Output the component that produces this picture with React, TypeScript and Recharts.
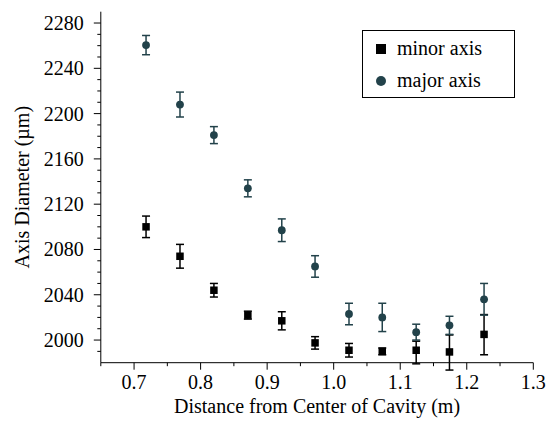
import React from 'react'
import {
  ScatterChart,
  Scatter,
  XAxis,
  YAxis,
  ErrorBar,
  Label,
} from 'recharts'

const distance = [0.718, 0.769, 0.82, 0.871, 0.922, 0.972, 1.023, 1.073, 1.124, 1.174, 1.226]

const minorValues = [2100, 2074, 2044, 2022, 2017, 1997.5, 1991, 1990, 1991, 1989.5, 2005]
const minorErrors = [
  [9.5, 9.5], [10.5, 10.5], [6, 6], [3.5, 3.5], [8, 8], [5.5, 5.5],
  [6, 6], [3, 3], [12, 8], [16, 15], [18, 17.5],
]

const majorValues = [2260.5, 2208, 2181, 2134, 2097, 2065, 2023, 2020, 2007, 2013, 2036]
const majorErrors = [8.5, 11, 7.5, 7.5, 10, 9.5, 9.5, 12.5, 7, 8, 14]

const xTicks = [0.65, 0.7, 0.75, 0.8, 0.85, 0.9, 0.95, 1.0, 1.05, 1.1, 1.15, 1.2, 1.25, 1.3]
const yTicks = [
  1990, 2000, 2010, 2020, 2030, 2040, 2050, 2060, 2070, 2080, 2090, 2100, 2110, 2120,
  2130, 2140, 2150, 2160, 2170, 2180, 2190, 2200, 2210, 2220, 2230, 2240, 2250, 2260,
  2270, 2280,
]

const FONT = '"Liberation Serif", "Times New Roman", serif'
const MAJOR_COLOR = '#22424a'
const MINOR_COLOR = '#000000'

const minorData = distance.map((x, i) => ({ x, y: minorValues[i], err: minorErrors[i] }))
const majorData = distance.map((x, i) => ({ x, y: majorValues[i], err: majorErrors[i] }))

const XTick = (props: any) => {
  const { x, y, payload } = props
  const v = payload.value
  const major = Math.round(v * 100) % 10 === 0
  return (
    <g>
      <line x1={x} x2={x} y1={y} y2={y + (major ? 7 : 3.5)} stroke="#000" strokeWidth={1} />
      {major && (
        <text x={x} y={y + 26} textAnchor="middle" fontFamily={FONT} fontSize={20} fill="#000">
          {v.toFixed(1)}
        </text>
      )}
    </g>
  )
}

const YTick = (props: any) => {
  const { x, y, payload } = props
  const v = payload.value
  const major = (v - 2000) % 40 === 0
  return (
    <g>
      <line x1={x} x2={x - (major ? 7 : 3.5)} y1={y} y2={y} stroke="#000" strokeWidth={1} />
      {major && (
        <text x={x - 17} y={y + 7} textAnchor="end" fontFamily={FONT} fontSize={20} fill="#000">
          {v}
        </text>
      )}
    </g>
  )
}

const Square = (props: any) => {
  const { cx, cy } = props
  if (cx == null || cy == null) return null
  return <rect x={cx - 3.75} y={cy - 3.75} width={7.5} height={7.5} fill={MINOR_COLOR} />
}

const Dot = (props: any) => {
  const { cx, cy } = props
  if (cx == null || cy == null) return null
  return <circle cx={cx} cy={cy} r={3.9} fill={MAJOR_COLOR} />
}

const LegendBox = () => (
  <div
    style={{
      position: 'absolute',
      left: 354,
      top: 22,
      width: 151,
      height: 66,
      border: '1px solid #000',
      background: '#fff',
      fontFamily: FONT,
      fontSize: 20,
      color: '#000',
    }}
  >
    <div style={{ position: 'absolute', left: 13, top: 13, width: 10, height: 10, background: MINOR_COLOR }} />
    <div style={{ position: 'absolute', left: 34, top: 4, lineHeight: '26px' }}>minor axis</div>
    <div
      style={{
        position: 'absolute', left: 13, top: 45, width: 10, height: 10,
        borderRadius: '50%', background: MAJOR_COLOR,
      }}
    />
    <div style={{ position: 'absolute', left: 34, top: 36, lineHeight: '26px' }}>major axis</div>
  </div>
)

export default function App() {
  return (
    <div style={{ position: 'relative', width: 540, height: 410, fontFamily: FONT }}>
      <ScatterChart
        width={540}
        height={410}
        margin={{ top: 3.7, right: 14.7, bottom: 5.3, left: 12.8 }}
      >
        <XAxis
          xAxisId="bottom"
          type="number"
          dataKey="x"
          domain={[0.65, 1.3]}
          allowDataOverflow
          ticks={xTicks}
          interval={0}
          tickSize={0}
          tickMargin={0}
          tickLine={false}
          tick={<XTick />}
          height={50}
          axisLine={{ stroke: '#000', strokeWidth: 1 }}
        >
          <Label
            content={(p: any) => {
              const vb = p.viewBox
              return (
                <text
                  x={vb.x + vb.width / 2}
                  y={vb.y + 50}
                  textAnchor="middle"
                  fontFamily={FONT}
                  fontSize={20}
                  fill="#000"
                >
                  Distance from Center of Cavity (m)
                </text>
              )
            }}
          />
        </XAxis>
        <XAxis
          xAxisId="top"
          orientation="top"
          type="number"
          domain={[0.65, 1.3]}
          allowDataOverflow
          tick={false}
          tickLine={false}
          height={0}
          axisLine={{ stroke: '#000', strokeWidth: 1 }}
        />
        <YAxis
          yAxisId="left"
          type="number"
          dataKey="y"
          domain={[1980, 2290]}
          allowDataOverflow
          ticks={yTicks}
          interval={0}
          tickSize={0}
          tickMargin={0}
          tickLine={false}
          tick={<YTick />}
          width={80}
          axisLine={{ stroke: '#000', strokeWidth: 1 }}
        >
          <Label
            content={(p: any) => {
              const vb = p.viewBox
              const cx = 21
              const cy = vb.y + vb.height / 2
              return (
                <text
                  x={cx}
                  y={cy}
                  transform={`rotate(-90 ${cx} ${cy})`}
                  textAnchor="middle"
                  fontFamily={FONT}
                  fontSize={20}
                  fill="#000"
                >
                  Axis Diameter (µm)
                </text>
              )
            }}
          />
        </YAxis>
        <YAxis
          yAxisId="right"
          orientation="right"
          type="number"
          domain={[1980, 2290]}
          allowDataOverflow
          tick={false}
          tickLine={false}
          width={0}
          axisLine={{ stroke: '#000', strokeWidth: 1 }}
        />
        <Scatter
          name="minor axis"
          data={minorData}
          xAxisId="bottom"
          yAxisId="left"
          shape={<Square />}
          isAnimationActive={false}
        >
          <ErrorBar dataKey="err" direction="y" width={4} stroke={MINOR_COLOR} strokeWidth={1.5} />
        </Scatter>
        <Scatter
          name="major axis"
          data={majorData}
          xAxisId="bottom"
          yAxisId="left"
          shape={<Dot />}
          isAnimationActive={false}
        >
          <ErrorBar dataKey="err" direction="y" width={4} stroke={MAJOR_COLOR} strokeWidth={1.5} />
        </Scatter>
      </ScatterChart>
      <LegendBox />
    </div>
  )
}
